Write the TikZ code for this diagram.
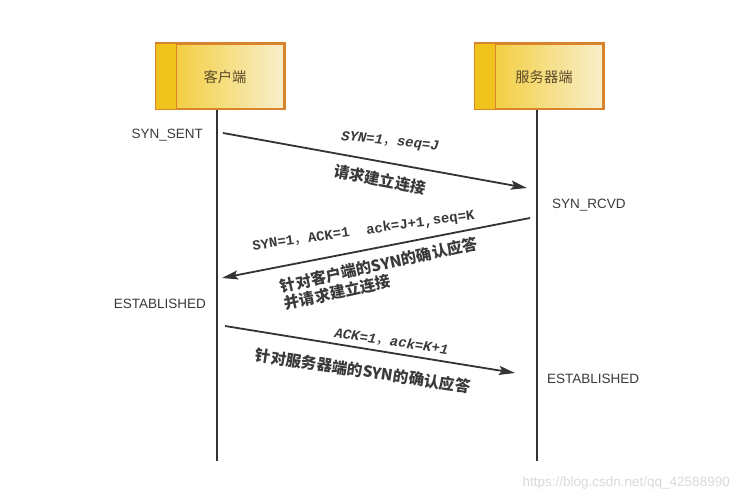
\documentclass[tikz,border=0pt]{standalone}
\usepackage{fontspec}
\setmainfont{Liberation Sans}
\newfontfamily\cjk{Noto Sans CJK SC}
\newfontfamily\monof{Liberation Mono}
\usetikzlibrary{arrows.meta,calc}
\definecolor{ink}{HTML}{333333}
\definecolor{txt}{HTML}{3A3A3A}
\definecolor{boxedge}{HTML}{D9832C}
\definecolor{boxA}{HTML}{F3C92A}
\definecolor{boxM}{HTML}{F5D860}
\definecolor{boxB}{HTML}{F8EFCB}
\definecolor{stripc}{HTML}{F0C21C}
\definecolor{boxtxt}{HTML}{5A4A28}
\definecolor{wm}{HTML}{DADADA}
\tikzset{
  box/.style={draw=boxedge, line width=1.5pt, minimum width=128pt, minimum height=65pt,
    inner sep=0pt, left color=boxA, middle color=boxM, right color=boxB},
  boxline/.style={draw=boxedge, line width=1.5pt},
  boxlabel/.style={font=\cjk\fontsize{14.3}{16}\selectfont, text=boxtxt, inner sep=0pt},
  life/.style={draw=ink, line width=1.8pt},
  msg/.style={draw=ink, line width=1.8pt, -{Stealth[length=16pt,width=9pt,inset=3pt]}},
  state/.style={font=\fontsize{13.5}{15}\selectfont, text=txt, inner sep=0pt},
  monolab/.style={font=\monof\bfseries\fontsize{14}{16}\selectfont, text=txt, inner sep=0pt},
  monoit/.style={monolab, font=\monof\bfseries\itshape\fontsize{14}{16}\selectfont},
  cjklab/.style={font=\cjk\bfseries\fontsize{15.5}{18}\selectfont, text=txt, inner sep=0pt},
  watermark/.style={font=\fontsize{13.5}{15}\selectfont, text=wm, inner sep=0pt}
}
\begin{document}
\begin{tikzpicture}[x=1pt,y=-1pt]
\useasboundingbox[fill=white] (0,0) rectangle (740,500);

% boxes
\node[box] (cbox) at (220,76.5) {};
\node[box] (sbox) at (539,76.5) {};
\foreach \b in {cbox,sbox}{
  \fill[stripc] (\b.north west) rectangle ($(\b.south west)+(21,0)$);
  \draw[boxline] ($(\b.north west)+(21,0)$) -- ($(\b.south west)+(21,0)$);
  \draw[boxline] (\b.north west) rectangle (\b.south east);
}
\node[boxlabel] (ctext) at ($(cbox.center)+(5,1)$) {客户端};
\node[boxlabel] (stext) at ($(sbox.center)+(5,1)$) {服务器端};

% lifelines
\coordinate (cend) at (217,461);
\coordinate (send) at (537,461);
\draw[life] (cbox.south -| cend) -- (cend);
\draw[life] (sbox.south -| send) -- (send);

% states
\node[state, anchor=east] (synsent) at (203,135) {SYN\_SENT};
\node[state, anchor=west] (synrcvd) at (552,205) {SYN\_RCVD};
\node[state, anchor=east] (estc) at (206,304) {ESTABLISHED};
\node[state, anchor=west] (ests) at (547,379) {ESTABLISHED};

% message 1
\coordinate (a1s) at (223,133);
\coordinate (a1e) at (527,188);
\draw[msg] (a1s) -- (a1e);
\node[monoit, rotate=-6] (l1a) at (390,142) {SYN=1{\cjk\mdseries\upshape ，}seq=J};
\node[cjklab, rotate=-11] (l1b) at (380,180) {请求建立连接};

% message 2
\coordinate (a2s) at (530,218);
\coordinate (a2e) at (222,278);
\draw[msg] (a2s) -- (a2e);
\node[monolab, rotate=8] (l2a) at (363.5,231) {SYN=1{\cjk\mdseries ，}ACK=1\ \ ack=J+1,seq=K};
\node[cjklab, rotate=12.5, anchor=base west] (l2b) at (281.7,292.4) {针对客户端的SYN的确认应答};
\node[cjklab, rotate=12.5, anchor=base west] (l2c) at (285.6,310) {并请求建立连接};

% message 3
\coordinate (a3s) at (225,326);
\coordinate (a3e) at (515,373);
\draw[msg] (a3s) -- (a3e);
\node[monoit, rotate=-8.5] (l3a) at (391.5,341.5) {ACK=1{\cjk\mdseries\upshape ，}ack=K+1};
\node[cjklab, rotate=-8.5] (l3b) at (363,371) {针对服务器端的SYN的确认应答};

% watermark
\node[watermark, anchor=east] (wmk) at (730,483) {https://blog.csdn.net/qq\_42588990};
\end{tikzpicture}
\end{document}
